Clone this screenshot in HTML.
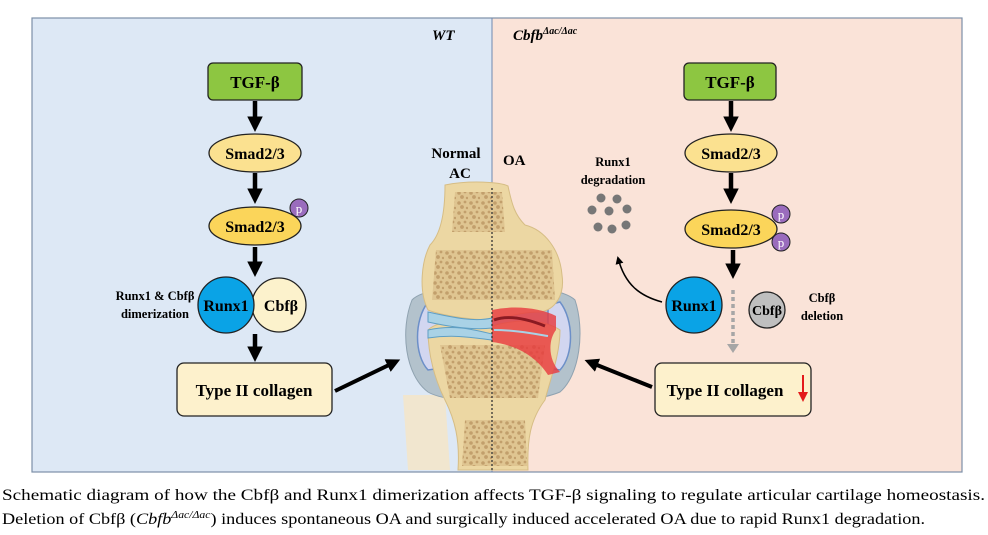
<!DOCTYPE html>
<html><head><meta charset="utf-8"><style>
html,body{margin:0;padding:0;background:#fff;}
svg{display:block;font-family:"Liberation Serif",serif;}
</style></head><body>
<svg width="988" height="535" viewBox="0 0 988 535" xmlns="http://www.w3.org/2000/svg">
<defs>
<marker id="ah" markerWidth="3.5" markerHeight="3.5" refX="1.5" refY="1.75" orient="auto" markerUnits="strokeWidth"><path d="M0,0 L3.5,1.75 L0,3.5 z" fill="#000"/></marker>
<marker id="ahs" markerWidth="8" markerHeight="8" refX="6" refY="4" orient="auto" markerUnits="userSpaceOnUse"><path d="M0,0 L8,4 L0,8 z" fill="#000"/></marker>
<pattern id="sp" width="12" height="10" patternUnits="userSpaceOnUse">
<rect width="12" height="10" fill="#dcc08c"/>
<circle cx="3" cy="3" r="1.8" fill="#b8915e"/><circle cx="9" cy="2" r="1.4" fill="#b8915e"/>
<circle cx="6" cy="7" r="1.9" fill="#b8915e"/><circle cx="11" cy="8" r="1.2" fill="#b8915e"/>
</pattern>
</defs>
<rect x="32" y="18" width="460" height="454" fill="#dde8f5"/>
<rect x="492" y="18" width="470" height="454" fill="#fae3d8"/>
<rect x="32" y="18" width="930" height="454" fill="none" stroke="#7d8fa8" stroke-width="1.2"/>
<line x1="492" y1="18" x2="492" y2="472" stroke="#6f88b0" stroke-width="1"/>
<text x="432" y="40" font-size="15" font-weight="bold" font-style="italic">WT</text>
<text x="513" y="40" font-size="15" font-weight="bold" font-style="italic">Cbfb<tspan font-size="10" dy="-6">Δac/Δac</tspan></text>

<!-- joint -->
<g>
<path d="M403,395 L408,470 L450,470 L445,395z" fill="#f1e6cf"/>
<path d="M412,300 C400,330 405,375 428,392 C450,405 530,405 560,392 C580,375 585,330 575,300 C555,280 430,280 412,300z" fill="#b3c2cc" stroke="#8fa2b0"/>
<path d="M428,302 C414,320 414,355 428,370 L442,368 L442,305z" fill="#d2d6f0" stroke="#6c8fc8" stroke-width="1.5"/>
<path d="M560,302 C574,320 574,355 560,370 L548,368 L548,305z" fill="#d2d6f0" stroke="#6c8fc8" stroke-width="1.5"/>
<!-- tibia -->
<path d="M428,330 C440,318 470,322 492,326 C520,318 545,320 560,330 C560,355 550,380 545,400 C530,420 527,440 528,470 L458,470 C460,440 455,420 445,400 C435,380 428,355 428,330z" fill="#ecd7a3" stroke="#d6bd85"/>
<path d="M440,345 L545,345 L538,398 L450,398z" fill="url(#sp)" opacity="0.8"/>
<path d="M465,420 L525,420 L527,466 L462,466z" fill="url(#sp)" opacity="0.8"/>
<!-- femur -->
<path d="M445,185 C470,180 500,182 508,186 C512,205 515,215 525,225 C545,230 560,250 562,275 C565,295 555,310 540,312 C520,312 505,318 492,320 C470,320 440,315 428,310 C418,290 422,260 430,245 C440,235 445,215 445,185z" fill="#ecd7a3" stroke="#d6bd85"/>
<path d="M455,192 L502,192 L505,232 L452,232z" fill="url(#sp)" opacity="0.8"/>
<path d="M436,250 L552,250 L555,300 L432,300z" fill="url(#sp)" opacity="0.8"/>
<!-- cartilage -->
<path d="M428,312 C455,318 475,322 492,318 L492,328 C475,330 455,328 428,322z" fill="#a9d2e6" stroke="#5f9fc4"/>
<path d="M428,330 C455,324 475,330 492,334 L492,340 C475,338 455,334 428,338z" fill="#a9d2e6" stroke="#5f9fc4"/>
<!-- OA red -->
<path d="M492,310 C515,305 540,308 556,316 L556,330 C548,340 548,360 560,372 L548,375 C535,355 515,345 492,342z" fill="#e8383d" opacity="0.8"/>
<path d="M494,320 C510,314 530,320 545,326" stroke="#8a1a22" stroke-width="3" fill="none"/>
<path d="M494,330 C515,330 535,334 548,336" stroke="#a9d2e6" stroke-width="2" fill="none"/>
<line x1="492" y1="188" x2="492" y2="470" stroke="#333" stroke-width="1.3" stroke-dasharray="2,2"/>
</g>
<text x="456" y="158" font-size="15" font-weight="bold" text-anchor="middle">Normal</text>
<text x="460" y="178" font-size="15" font-weight="bold" text-anchor="middle">AC</text>
<text x="503" y="165" font-size="15" font-weight="bold">OA</text>

<!-- LEFT -->
<rect x="208" y="63" width="94" height="37" rx="5" fill="#8dc641" stroke="#222" stroke-width="1.3"/>
<text x="255" y="88" font-size="17" font-weight="bold" text-anchor="middle">TGF-β</text>
<line x1="255" y1="101" x2="255" y2="123" stroke="#000" stroke-width="4.5" marker-end="url(#ah)"/>
<ellipse cx="255" cy="153" rx="46" ry="19" fill="#fbe190" stroke="#222" stroke-width="1.3"/>
<text x="255" y="159" font-size="16" font-weight="bold" text-anchor="middle">Smad2/3</text>
<line x1="255" y1="173" x2="255" y2="195" stroke="#000" stroke-width="4.5" marker-end="url(#ah)"/>
<ellipse cx="255" cy="226" rx="46" ry="19" fill="#fbd55a" stroke="#222" stroke-width="1.3"/>
<text x="255" y="232" font-size="16" font-weight="bold" text-anchor="middle">Smad2/3</text>
<circle cx="299" cy="208" r="9" fill="#9a6cbd" stroke="#222"/>
<text x="299" y="213" font-size="13" fill="#fff" text-anchor="middle">p</text>
<line x1="255" y1="247" x2="255" y2="268" stroke="#000" stroke-width="4.5" marker-end="url(#ah)"/>
<circle cx="279" cy="305" r="27" fill="#fcf2cc" stroke="#222" stroke-width="1.3"/>
<circle cx="226" cy="305" r="28" fill="#0aa3e6" stroke="#222" stroke-width="1.3"/>
<text x="226" y="311" font-size="16" font-weight="bold" text-anchor="middle">Runx1</text>
<text x="281" y="311" font-size="16" font-weight="bold" text-anchor="middle">Cbfβ</text>
<text x="155" y="300" font-size="12.5" font-weight="bold" text-anchor="middle">Runx1 &amp; Cbfβ</text>
<text x="155" y="318" font-size="12.5" font-weight="bold" text-anchor="middle">dimerization</text>
<line x1="255" y1="334" x2="255" y2="353" stroke="#000" stroke-width="4.5" marker-end="url(#ah)"/>
<rect x="177" y="363" width="155" height="53" rx="7" fill="#fdf1cc" stroke="#222" stroke-width="1.3"/>
<text x="254" y="396" font-size="17" font-weight="bold" text-anchor="middle">Type II collagen</text>
<line x1="335" y1="391" x2="393" y2="363" stroke="#000" stroke-width="4" marker-end="url(#ah)"/>

<!-- RIGHT -->
<rect x="684" y="63" width="92" height="37" rx="5" fill="#8dc641" stroke="#222" stroke-width="1.3"/>
<text x="730" y="88" font-size="17" font-weight="bold" text-anchor="middle">TGF-β</text>
<line x1="731" y1="101" x2="731" y2="123" stroke="#000" stroke-width="4.5" marker-end="url(#ah)"/>
<ellipse cx="731" cy="153" rx="46" ry="19" fill="#fbe190" stroke="#222" stroke-width="1.3"/>
<text x="731" y="159" font-size="16" font-weight="bold" text-anchor="middle">Smad2/3</text>
<line x1="731" y1="173" x2="731" y2="195" stroke="#000" stroke-width="4.5" marker-end="url(#ah)"/>
<ellipse cx="731" cy="229" rx="46" ry="19" fill="#fbd55a" stroke="#222" stroke-width="1.3"/>
<text x="731" y="235" font-size="16" font-weight="bold" text-anchor="middle">Smad2/3</text>
<circle cx="781" cy="214" r="9" fill="#9a6cbd" stroke="#222"/>
<text x="781" y="219" font-size="13" fill="#fff" text-anchor="middle">p</text>
<circle cx="781" cy="242" r="9" fill="#9a6cbd" stroke="#222"/>
<text x="781" y="247" font-size="13" fill="#fff" text-anchor="middle">p</text>
<line x1="733" y1="250" x2="733" y2="270" stroke="#000" stroke-width="4.5" marker-end="url(#ah)"/>
<line x1="733" y1="290" x2="733" y2="345" stroke="#a6a6a6" stroke-width="3.5" stroke-dasharray="4,3"/>
<path d="M727,344 L739,344 L733,353z" fill="#a6a6a6"/>
<circle cx="694" cy="305" r="28" fill="#0aa3e6" stroke="#222" stroke-width="1.3"/>
<text x="694" y="311" font-size="16" font-weight="bold" text-anchor="middle">Runx1</text>
<circle cx="767" cy="310" r="18" fill="#bfbfbf" stroke="#222" stroke-width="1.3"/>
<text x="767" y="315" font-size="14" font-weight="bold" text-anchor="middle">Cbfβ</text>
<text x="822" y="302" font-size="12.5" font-weight="bold" text-anchor="middle">Cbfβ</text>
<text x="822" y="320" font-size="12.5" font-weight="bold" text-anchor="middle">deletion</text>
<path d="M662,302 C640,296 625,285 618,258" stroke="#000" stroke-width="1.5" fill="none" marker-end="url(#ahs)"/>
<text x="613" y="166" font-size="12.5" font-weight="bold" text-anchor="middle">Runx1</text>
<text x="613" y="184" font-size="12.5" font-weight="bold" text-anchor="middle">degradation</text>
<g fill="#777">
<circle cx="601" cy="198" r="4.5"/><circle cx="617" cy="199" r="4.5"/>
<circle cx="592" cy="210" r="4.5"/><circle cx="609" cy="211" r="4.5"/><circle cx="627" cy="209" r="4.5"/>
<circle cx="598" cy="227" r="4.5"/><circle cx="612" cy="229" r="4.5"/><circle cx="626" cy="225" r="4.5"/>
</g>
<rect x="655" y="363" width="156" height="53" rx="7" fill="#fdf1cc" stroke="#222" stroke-width="1.3"/>
<text x="725" y="396" font-size="17" font-weight="bold" text-anchor="middle">Type II collagen</text>
<line x1="803" y1="375" x2="803" y2="395" stroke="#e31b1b" stroke-width="2"/>
<path d="M798,392 L808,392 L803,402z" fill="#e31b1b"/>
<line x1="652" y1="387" x2="592" y2="363" stroke="#000" stroke-width="4" marker-end="url(#ah)"/>

<!-- caption -->
<text x="2" y="500" font-size="15.5" textLength="983" lengthAdjust="spacingAndGlyphs">Schematic diagram of how the Cbfβ and Runx1 dimerization affects TGF-β signaling to regulate articular cartilage homeostasis.</text>
<text x="2" y="524" font-size="15.5" textLength="923" lengthAdjust="spacingAndGlyphs">Deletion of Cbfβ (<tspan font-style="italic">Cbfb</tspan><tspan font-size="10" dy="-6" font-style="italic">Δac/Δac</tspan><tspan dy="6">) induces spontaneous OA and surgically induced accelerated OA due to rapid Runx1 degradation.</tspan></text>
</svg>
</body></html>
